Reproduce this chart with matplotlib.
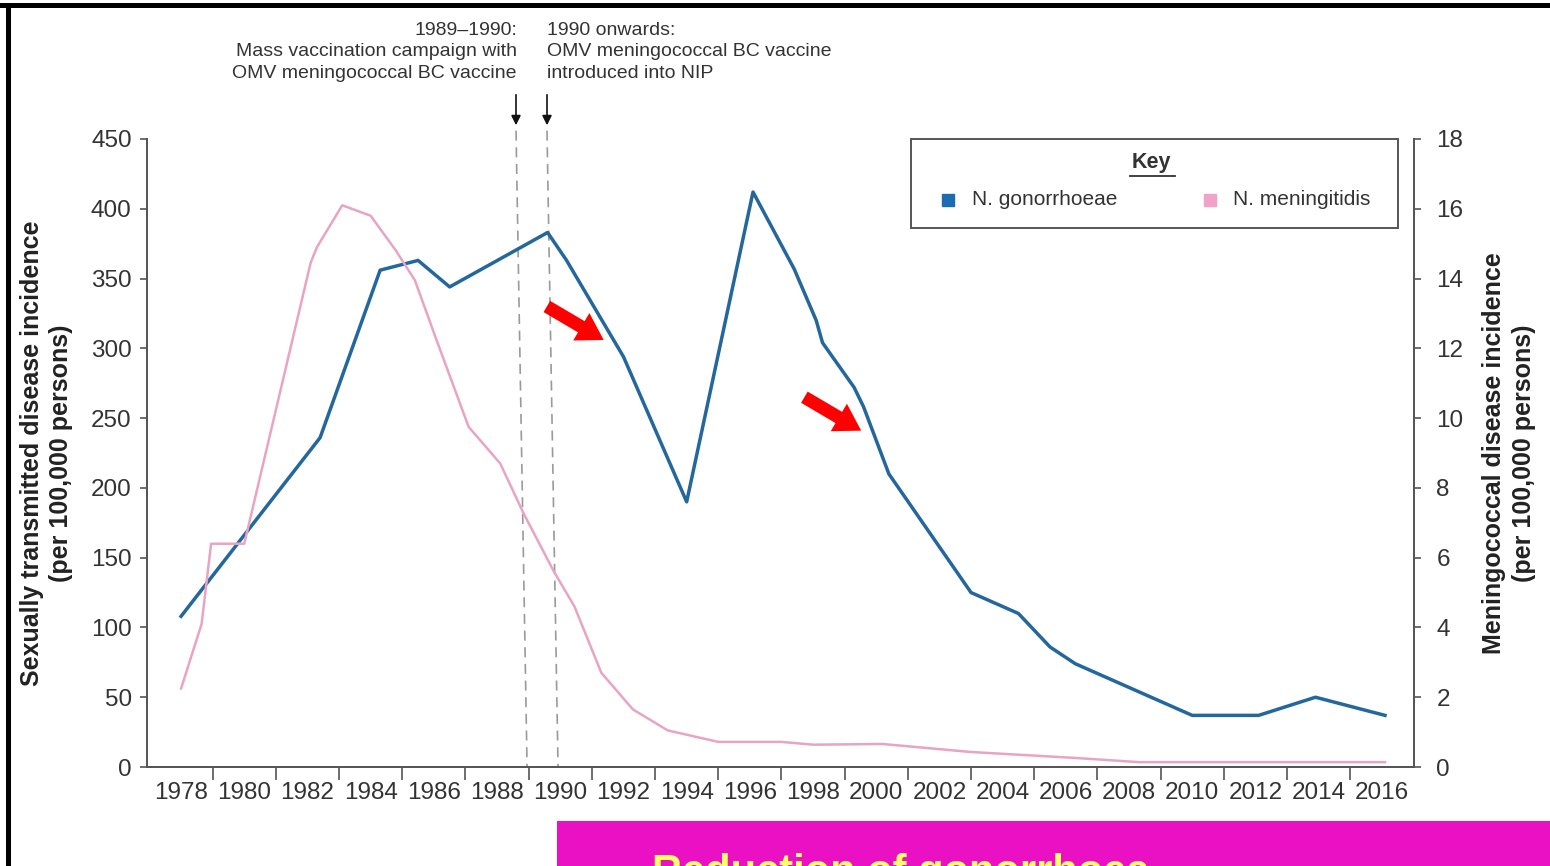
import matplotlib.pyplot as plt
from matplotlib.patches import Rectangle, FancyArrowPatch
from matplotlib.lines import Line2D

plt.rcParams['font.family'] = ['Liberation Sans', 'DejaVu Sans']

# N. gonorrhoeae (left axis, per 100,000)
gono_year = [1978.0, 1982.4, 1984.3, 1985.5, 1986.5, 1989.6, 1990.2, 1992.0, 1994.0,
             1996.1, 1997.4, 1998.1, 1998.3, 1999.3, 1999.6, 2000.4, 2003.0, 2004.5,
             2005.5, 2006.3, 2010.0, 2012.1, 2013.9, 2016.1]
gono_rate = [108, 236, 356, 363, 344, 383, 363, 294, 190,
             412, 357, 320, 304, 272, 258, 210, 125, 110,
             86, 74, 37, 37, 50, 37]

# N. meningitidis (right axis, per 100,000)
menin_year = [1978.0, 1978.65, 1978.95, 1980.0, 1982.1, 1982.3, 1983.1, 1984.0, 1984.8,
              1985.4, 1986.1, 1987.1, 1988.1, 1988.85, 1989.8, 1990.45, 1991.3, 1992.3,
              1993.4, 1995.0, 1997.0, 1998.0, 2000.2, 2003.0, 2006.3, 2008.3, 2016.1]
menin_rate = [2.25, 4.1, 6.4, 6.4, 14.45, 14.9, 16.1, 15.8, 14.8,
              13.95, 12.2, 9.75, 8.7, 7.25, 5.6, 4.6, 2.7, 1.65,
              1.05, 0.72, 0.72, 0.64, 0.66, 0.43, 0.26, 0.14, 0.14]

# vaccine markers (dashed lines drawn slightly slanted as in the source)
vacc_top = [1988.6, 1989.58]
vacc_bottom = [1988.95, 1989.93]

label_years = list(range(1978, 2017, 2))
tick_years = list(range(1979, 2017, 2))

blue = '#24679c'
pink = '#e9a4c4'
grey_txt = '#333333'
spine_c = '#555555'

fig = plt.figure(figsize=(15.5, 8.66), dpi=100)
ax = fig.add_axes([0.0948, 0.1143, 0.8175, 0.7252])
ax2 = ax.twinx()

ax.plot(gono_year, gono_rate, color=blue, lw=2.5, zorder=3)
ax2.plot(menin_year, menin_rate, color=pink, lw=1.8, zorder=2)

for xt, xb in zip(vacc_top, vacc_bottom):
    ax.plot([xt, xb], [456, 0], color='#9a9a9a', lw=1.2, ls=(0, (6, 4)),
            clip_on=False, zorder=1)

ax.set_xlim(1976.92, 2017.02)
ax.set_ylim(0, 450)
ax2.set_ylim(0, 18)

ax.set_xticks(tick_years)
ax.set_xticklabels([''] * len(tick_years))
ax.set_xticks(label_years, minor=True)
ax.set_xticklabels([str(y) for y in label_years], minor=True)
ax.tick_params(axis='x', which='major', length=9, width=1.2, color=spine_c)
ax.tick_params(axis='x', which='minor', length=0, pad=11, labelsize=17.5, labelcolor=grey_txt)

ax.set_yticks(range(0, 451, 50))
ax.tick_params(axis='y', length=5, width=1.2, color=spine_c, pad=6,
               labelsize=17.5, labelcolor=grey_txt)
ax2.set_yticks(range(0, 19, 2))
ax2.tick_params(axis='y', length=5, width=1.2, color=spine_c, pad=11,
                labelsize=17.5, labelcolor=grey_txt)

for a in (ax, ax2):
    a.spines['top'].set_visible(False)
    for s in ('left', 'right', 'bottom'):
        a.spines[s].set_color(spine_c)
        a.spines[s].set_linewidth(1.3)

# axis titles
fig.text(0.030, 0.477, 'Sexually transmitted disease incidence\n(per 100,000 persons)',
         rotation=90, ha='center', va='center', fontsize=18, fontweight='bold',
         color='#222222', linespacing=1.3)
fig.text(0.9735, 0.477, 'Meningococcal disease incidence\n(per 100,000 persons)',
         rotation=90, ha='center', va='center', fontsize=18, fontweight='bold',
         color='#222222', linespacing=1.3)

# key box
ax.add_patch(Rectangle((0.603, 0.858), 0.384, 0.142, transform=ax.transAxes,
                       fill=False, edgecolor='#555555', lw=1.4, clip_on=False, zorder=5))
ax.text(0.793, 0.963, 'Key', transform=ax.transAxes, ha='center', va='center',
        fontsize=15.5, fontweight='bold', color='#333333')
ax.add_line(Line2D([0.776, 0.811], [0.941, 0.941], transform=ax.transAxes,
                   color='#333333', lw=1.3))
ax.plot([0.632], [0.903], marker='s', ms=9, color='#1b6cb0', transform=ax.transAxes,
        clip_on=False)
ax.text(0.651, 0.903, 'N. gonorrhoeae', transform=ax.transAxes, va='center',
        fontsize=15, color='#333333')
ax.plot([0.839], [0.903], marker='s', ms=9, color='#f0a2c8', transform=ax.transAxes,
        clip_on=False)
ax.text(0.857, 0.903, 'N. meningitidis', transform=ax.transAxes, va='center',
        fontsize=15, color='#333333')

# red arrows
for (x0, y0), (x1, y1) in [((1989.5, 331), (1991.45, 305)), ((1997.65, 266), (1999.6, 240))]:
    ax.add_patch(FancyArrowPatch((x0, y0), (x1, y1),
                                 arrowstyle='simple,tail_width=0.55,head_width=1.35,head_length=1.1',
                                 mutation_scale=17, color='#ff0000', lw=0, zorder=6))

# vaccine annotations
fig.text(517 / 1550, 1 - 52 / 866,
         '1989\u20131990:\nMass vaccination campaign with\nOMV meningococcal BC vaccine',
         ha='right', va='center', fontsize=14, color=grey_txt, linespacing=1.36)
fig.text(547 / 1550, 1 - 52 / 866,
         '1990 onwards:\nOMV meningococcal BC vaccine\nintroduced into NIP',
         ha='left', va='center', fontsize=14, color=grey_txt, linespacing=1.36)
for xp in (516, 547):
    fig.add_artist(FancyArrowPatch((xp / 1550, 1 - 92 / 866), (xp / 1550, 1 - 128 / 866),
                                   transform=fig.transFigure, arrowstyle='-|>',
                                   mutation_scale=14, color='#111111', lw=1.2))

# slide frame and banner
fig.add_artist(Rectangle((0, 1 - 8 / 866), 1, 5 / 866, transform=fig.transFigure,
                         color='black', lw=0))
fig.add_artist(Rectangle((6 / 1550, 0), 5 / 1550, 1 - 3 / 866, transform=fig.transFigure,
                         color='black', lw=0))
fig.add_artist(Rectangle((557 / 1550, 0), 1 - 557 / 1550, 45 / 866, transform=fig.transFigure,
                         color='#ea10c4', lw=0))
fig.text(652 / 1550, 1 - 853 / 866, 'Reduction of gonorrhoea', ha='left', va='top',
         fontsize=30, fontweight='bold', color='#ffff66')

fig.savefig('out.png', dpi=100)
